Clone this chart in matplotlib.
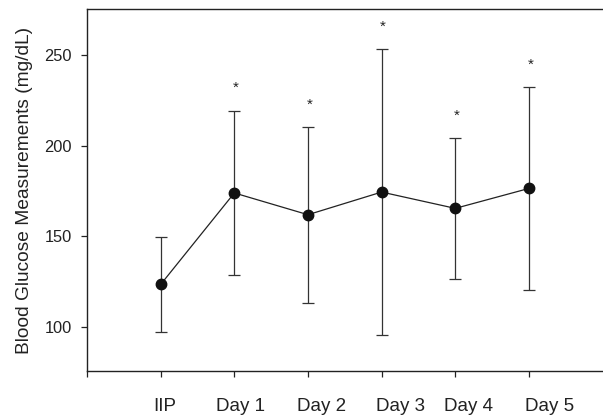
import numpy as np
import matplotlib.pyplot as plt

plt.rcParams['font.family'] = ['Liberation Sans', 'DejaVu Sans']
plt.rcParams['text.color'] = '#222222'
plt.rcParams['axes.labelcolor'] = '#222222'
plt.rcParams['xtick.labelcolor'] = '#222222'
plt.rcParams['ytick.labelcolor'] = '#222222'

# data
labels = ['IIP', 'Day 1', 'Day 2', 'Day 3', 'Day 4', 'Day 5']
means = [123.5, 174.0, 162.0, 174.5, 165.5, 176.5]
sds = [26.0, 45.5, 48.5, 79.0, 39.0, 56.0]
significant = [False, True, True, True, True, True]

x = np.arange(1, len(labels) + 1)

fig = plt.figure(figsize=(6.03, 4.19), dpi=100)
ax = fig.add_axes([0.1443, 0.1134, 0.855, 0.8651])

ax.errorbar(x, means, yerr=sds, fmt='none', ecolor='#333333',
            elinewidth=0.9, capsize=4, capthick=0.9, zorder=2)
ax.plot(x, means, color='#222222', linewidth=0.9, marker='o',
        markersize=7.5, markerfacecolor='#111111',
        markeredgecolor='#111111', zorder=3)

for xi, m, s, sig in zip(x, means, sds, significant):
    if sig:
        ax.annotate('*', (xi, m + s), xytext=(1, 11), textcoords='offset points',
                    ha='center', va='bottom', fontsize=11)

ax.set_xlim(0, 7)
ax.set_ylim(75.5, 275.5)
ax.set_yticks([100, 150, 200, 250])
ax.set_xticks(np.arange(0, 7))
ax.set_xticklabels([])

# tick labels in the original sit a little right of the ticks
label_pos = [1.06, 2.09, 3.18, 4.26, 5.18, 6.28]
ax.set_xticks(label_pos, minor=True)
ax.set_xticklabels(labels, minor=True)
ax.tick_params(axis='x', which='minor', length=0, pad=19, labelsize=13.5)
ax.tick_params(axis='x', which='major', direction='out', length=4.5,
               width=0.9, color='#222222')
ax.tick_params(axis='y', direction='out', length=4, width=0.9,
               color='#222222', labelsize=11.8, pad=7)

ax.set_ylabel('Blood Glucose Measurements (mg/dL)', fontsize=13.8, labelpad=8)

for side in ['left', 'top', 'bottom']:
    ax.spines[side].set_linewidth(1.0)
    ax.spines[side].set_color('#222222')
ax.spines['right'].set_visible(False)

fig.savefig('out.png', dpi=100)
